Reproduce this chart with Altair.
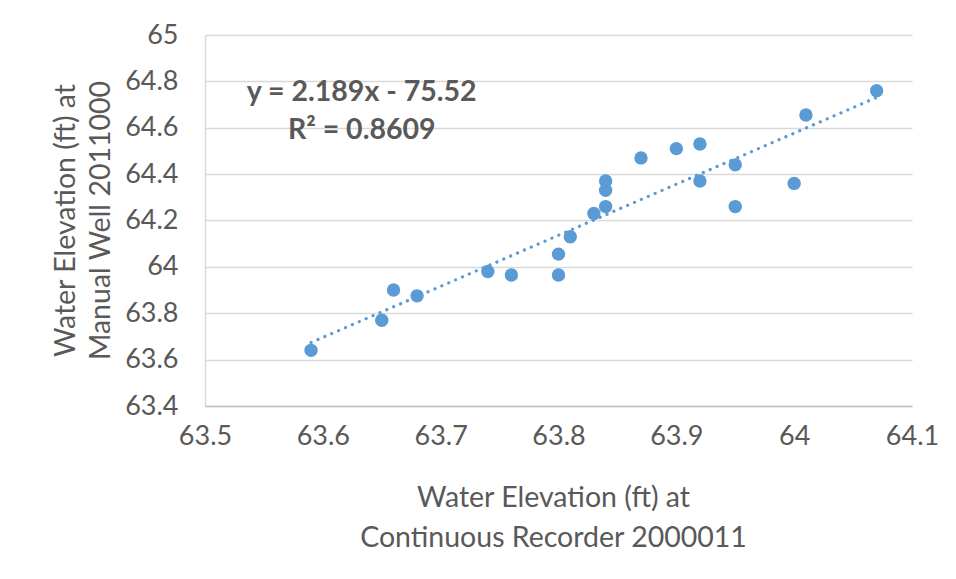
import altair as alt
import pandas as pd

# Data
recorder_ft = [63.59, 63.65, 63.66, 63.68, 63.74, 63.76, 63.80, 63.80, 63.81, 63.83,
               63.84, 63.84, 63.84, 63.87, 63.90, 63.92, 63.92, 63.95, 63.95, 64.00,
               64.01, 64.07]
well_ft = [63.64, 63.77, 63.90, 63.875, 63.98, 63.965, 63.965, 64.055, 64.13, 64.23,
           64.26, 64.33, 64.37, 64.47, 64.51, 64.53, 64.37, 64.44, 64.26, 64.36,
           64.655, 64.76]
equation_lines = ["y = 2.189x - 75.52", "R² = 0.8609"]

df = pd.DataFrame({"x": recorder_ft, "y": well_ft})

FONT = "Lato"
GREY = "#595959"
BLUE = "#5B9BD5"

xscale = alt.Scale(domain=[63.5, 64.1], nice=False, zero=False)
yscale = alt.Scale(domain=[63.4, 65.0], nice=False, zero=False)

xaxis = alt.Axis(
    values=[63.5, 63.6, 63.7, 63.8, 63.9, 64.0, 64.1],
    labelExpr="format(datum.value, '~g')",
    grid=False, ticks=False, domainColor="#BFBFBF", domainWidth=1.5,
    labelFont=FONT, labelFontSize=27, labelColor=GREY, labelPadding=17,
    labelFlush=False,
    title=["Water Elevation (ft) at", "Continuous Recorder 2000011"],
    titleFont=FONT, titleFontSize=28.5, titleFontWeight="normal", titleColor=GREY,
    titleLineHeight=40, titleBaseline="middle", titleX=348, titleY=91,
)
yaxis = alt.Axis(
    values=[63.4, 63.6, 63.8, 64.0, 64.2, 64.4, 64.6, 64.8, 65.0],
    labelExpr="format(datum.value, '~g')",
    grid=True, gridColor="#D9D9D9", gridWidth=1.5,
    ticks=False, domainColor="#D9D9D9", domainWidth=1.5,
    labelFont=FONT, labelFontSize=27, labelColor=GREY, labelPadding=27,
    labelFlush=False,
    title=["Water Elevation (ft) at", "Manual Well 2011000"],
    titleFont=FONT, titleFontSize=28.5, titleFontWeight="normal", titleColor=GREY,
    titleLineHeight=35, titleAngle=-90, titleBaseline="middle", titleAlign="center",
    titleX=-140, titleY=185,
)

base = alt.Chart(df)

points = base.mark_circle(size=180, color=BLUE, opacity=1).encode(
    x=alt.X("x:Q", scale=xscale, axis=xaxis),
    y=alt.Y("y:Q", scale=yscale, axis=yaxis),
)

trend = base.transform_regression("x", "y").mark_line(
    color=BLUE, strokeWidth=3.2, strokeDash=[0.1, 7.4], strokeCap="round"
).encode(
    x=alt.X("x:Q", scale=xscale),
    y=alt.Y("y:Q", scale=yscale),
)

eq1 = alt.Chart(pd.DataFrame({"t": [equation_lines[0]]})).mark_text(
    font=FONT, fontSize=28.5, fontWeight="bold", color=GREY, align="center", baseline="middle"
).encode(x=alt.datum(63.633), y=alt.datum(64.755), text="t:N")
eq2 = alt.Chart(pd.DataFrame({"t": [equation_lines[1]]})).mark_text(
    font=FONT, fontSize=28.5, fontWeight="bold", color=GREY, align="center", baseline="middle"
).encode(x=alt.datum(63.633), y=alt.datum(64.59), text="t:N")

chart = alt.layer(trend, points, eq1, eq2).properties(
    width=707, height=371,
    autosize=alt.AutoSizeParams(type="none"),
    padding={"left": 197, "top": 27, "right": 36, "bottom": 165},
).configure_view(stroke=None)

chart.save("out.html", embed_options={"renderer": "svg", "actions": False})
